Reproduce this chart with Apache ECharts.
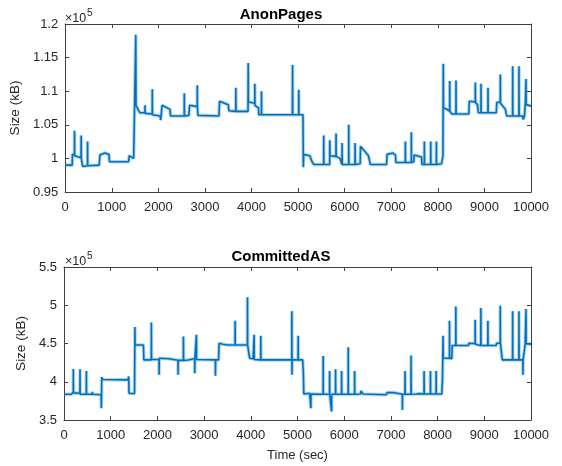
<!DOCTYPE html>
<html>
<head>
<meta charset="utf-8">
<script src="https://cdn.jsdelivr.net/npm/echarts@6/dist/echarts.min.js"></script>
<style>
  html, body { margin: 0; padding: 0; background: #fff; }
  #main { width: 562px; height: 466px; }
</style>
</head>
<body>
<div id="main"></div>
<script>
// values in units of 1e5 kB, [time (sec), size]
var anonPages = [
  [0,0.990],[150,0.990],[155,1.006],
  [198,1.005],[200,1.041],[203,1.004],
  [340,1.001],[343,1.034],[346,1.000],
  [370,0.998],[375,0.988],
  [478,0.989],[480,1.025],[483,0.989],
  [730,0.990],[745,1.005],[850,1.008],[940,1.006],[950,0.995],
  [1360,0.995],[1375,1.004],[1400,1.006],[1470,1.000],[1510,0.999],
  [1515,1.184],[1520,1.079],[1560,1.077],[1600,1.068],
  [1712,1.068],[1714,1.079],[1717,1.067],
  [1868,1.066],[1870,1.103],[1873,1.065],
  [2040,1.063],[2050,1.057],[2080,1.079],[2250,1.073],[2260,1.063],
  [2555,1.063],[2557,1.097],[2560,1.063],
  [2655,1.064],[2670,1.079],[2834,1.077],[2836,1.109],[2839,1.076],[2850,1.064],
  [3300,1.063],[3315,1.085],[3500,1.080],[3514,1.071],
  [3662,1.070],[3664,1.105],[3667,1.070],
  [3925,1.070],[3929,1.142],[3933,1.084],
  [4069,1.082],[4071,1.111],[4074,1.079],
  [4150,1.075],[4157,1.065],
  [4212,1.065],[4214,1.100],[4217,1.065],
  [4877,1.065],[4881,1.139],[4885,1.065],
  [5012,1.065],[5014,1.102],[5017,1.065],
  [5105,1.065],[5112,0.987],[5120,1.006],[5250,1.004],[5300,0.995],[5336,0.991],
  [5548,0.991],[5550,1.034],[5553,0.991],
  [5678,0.991],[5680,1.027],[5685,1.004],
  [5812,1.003],[5815,1.037],[5818,1.003],[5900,1.000],
  [5942,0.991],[5944,1.023],[5947,0.991],
  [6085,0.991],[6087,1.050],[6090,0.991],
  [6221,0.991],[6223,1.023],[6226,0.991],
  [6333,0.992],[6340,1.018],[6510,1.004],[6550,0.991],
  [6900,0.991],[6910,1.006],[7040,1.008],[7090,1.005],[7100,0.994],
  [7301,0.994],[7303,1.025],[7306,0.994],
  [7430,0.994],[7432,1.039],[7435,0.994],
  [7483,0.995],[7490,1.005],[7650,1.002],[7660,0.991],
  [7709,0.991],[7711,1.025],[7714,0.991],
  [7845,0.991],[7847,1.025],[7850,0.991],
  [7967,0.991],[7969,1.025],[7972,0.991],
  [8080,0.992],[8110,1.004],[8117,1.141],[8122,1.075],[8200,1.073],
  [8253,1.070],[8255,1.115],[8258,1.070],[8300,1.066],
  [8388,1.066],[8390,1.116],[8393,1.066],
  [8665,1.066],[8675,1.085],[8803,1.084],[8805,1.113],[8808,1.083],[8850,1.080],[8870,1.068],
  [8925,1.068],[8927,1.111],[8930,1.068],
  [9075,1.068],[9077,1.105],[9080,1.068],
  [9255,1.068],[9265,1.083],[9340,1.084],[9342,1.125],[9345,1.082],[9450,1.073],[9480,1.063],
  [9605,1.063],[9607,1.137],[9610,1.063],
  [9740,1.063],[9742,1.137],[9745,1.063],
  [9825,1.063],[9828,1.058],[9860,1.063],[9880,1.083],
  [9891,1.083],[9893,1.118],[9896,1.080],[10000,1.078]
];

var committedAS = [
  [0,3.836],[150,3.836],[157,3.858],
  [198,3.858],[200,4.168],[203,3.855],
  [341,3.850],[343,4.164],[346,3.836],
  [477,3.836],[479,4.142],[482,3.836],
  [605,3.836],[607,3.870],[610,3.836],
  [795,3.830],[800,3.653],[808,4.060],[830,4.030],[1370,4.024],[1386,4.068],[1392,3.850],[1510,3.845],
  [1519,4.714],[1523,4.483],[1700,4.480],[1710,4.286],
  [1869,4.286],[1871,4.775],[1874,4.290],
  [2034,4.290],[2036,4.090],[2040,4.308],[2250,4.300],[2260,4.280],
  [2441,4.280],[2443,4.090],[2446,4.280],
  [2555,4.280],[2557,4.592],[2560,4.280],
  [2660,4.285],[2665,4.305],[2798,4.305],[2800,4.110],[2803,4.305],
  [2834,4.305],[2836,4.614],[2839,4.290],[2850,4.286],
  [3241,4.286],[3243,4.080],[3246,4.286],[3310,4.286],[3321,4.504],[3400,4.490],[3500,4.480],
  [3662,4.480],[3664,4.797],[3667,4.480],
  [3927,4.480],[3929,5.103],[3932,4.480],[3965,4.480],[3975,4.308],[4050,4.300],
  [4069,4.295],[4071,4.614],[4074,4.290],
  [4212,4.286],[4214,4.600],[4217,4.286],
  [4877,4.286],[4879,4.920],[4882,4.090],[4885,4.286],
  [5012,4.286],[5014,4.600],[5017,4.286],
  [5110,4.286],[5125,4.130],[5135,3.840],[5260,3.850],
  [5284,3.850],[5286,3.653],[5289,3.840],
  [5548,3.836],[5550,4.338],[5553,3.836],
  [5685,3.836],[5687,4.142],[5690,3.836],
  [5728,3.836],[5730,3.610],[5733,3.836],
  [5813,3.836],[5815,4.164],[5818,3.836],
  [5942,3.836],[5944,4.142],[5947,3.836],
  [6085,3.836],[6087,4.452],[6090,3.836],
  [6221,3.836],[6223,4.142],[6226,3.836],
  [6350,3.840],[6360,3.880],[6400,3.840],
  [6900,3.830],[6920,3.858],[7050,3.860],[7070,3.840],
  [7244,3.836],[7246,3.630],[7249,3.836],
  [7301,3.836],[7303,4.142],[7306,3.836],
  [7430,3.836],[7432,4.343],[7435,3.836],
  [7545,3.840],[7555,3.860],[7600,3.845],
  [7709,3.840],[7711,4.142],[7714,3.840],
  [7845,3.840],[7847,4.142],[7850,3.840],
  [7967,3.840],[7969,4.142],[7972,3.840],
  [8090,3.840],[8104,4.024],[8117,4.600],[8122,4.308],
  [8253,4.308],[8255,4.797],[8258,4.308],[8305,4.300],[8312,4.474],
  [8388,4.474],[8390,4.985],[8393,4.474],
  [8660,4.474],[8670,4.504],[8803,4.500],[8805,4.810],[8808,4.490],[8830,4.474],
  [8925,4.474],[8927,4.963],[8930,4.474],
  [9075,4.474],[9077,4.797],[9080,4.474],
  [9255,4.474],[9265,4.504],[9340,4.504],[9342,4.993],[9345,4.504],[9375,4.500],[9385,4.286],
  [9605,4.286],[9607,4.920],[9610,4.286],
  [9740,4.286],[9742,4.920],[9745,4.286],
  [9826,4.286],[9828,4.090],[9831,4.286],[9866,4.286],[9876,4.496],
  [9891,4.496],[9893,4.950],[9896,4.496],[10000,4.490]
];

var titles = ['AnonPages', 'CommittedAS'];
var xRange = [0, 10000, 1000];
var yRangeTop = [0.95, 1.2, 0.05];
var yRangeBottom = [3.5, 5.5, 0.5];

var axisColor = '#404040';
var textColor = '#262626';
var lineColor = '#0072BD';
var font = 'Liberation Sans, Arial, Helvetica, sans-serif';

var myChart = echarts.init(document.getElementById('main'));

function xAxisDef(grid, pos, showLabel, name) {
  return {
    type: 'value', gridIndex: grid, position: pos,
    min: xRange[0], max: xRange[1], interval: xRange[2],
    axisLine: { show: true, onZero: false, lineStyle: { color: axisColor, width: 1 } },
    axisTick: { show: true, inside: true, length: 4, lineStyle: { color: axisColor } },
    axisLabel: {
      show: showLabel, color: textColor, fontSize: 13, fontFamily: font, margin: 9,
      formatter: function (v) { return String(v); }
    },
    splitLine: { show: false },
    name: name || '', nameLocation: 'middle', nameGap: 29,
    nameTextStyle: { color: textColor, fontSize: 13, fontFamily: font }
  };
}

function yAxisDef(grid, pos, range, showLabel) {
  return {
    type: 'value', gridIndex: grid, position: pos,
    min: range[0], max: range[1], interval: range[2],
    axisLine: { show: true, onZero: false, lineStyle: { color: axisColor, width: 1 } },
    axisTick: { show: true, inside: true, length: 4, lineStyle: { color: axisColor } },
    axisLabel: { show: showLabel, color: textColor, fontSize: 13, fontFamily: font, margin: 7 },
    splitLine: { show: false },
    name: showLabel ? 'Size (kB)' : '', nameLocation: 'middle', nameGap: 35, nameRotate: 90,
    nameTextStyle: { color: textColor, fontSize: 13.5, fontFamily: font }
  };
}

function expLabel(top) {
  return [
    { type: 'text', left: 65, top: top + 4, style: { text: '×10', font: '12.5px ' + font, fill: textColor } },
    { type: 'text', left: 87, top: top, style: { text: '5', font: '10px ' + font, fill: textColor } }
  ];
}

function seriesPair(xi, yi, data) {
  return [
    {
      type: 'line', xAxisIndex: xi, yAxisIndex: yi, data: data, silent: true,
      showSymbol: false, lineStyle: { color: lineColor, width: 3.6, opacity: 0.3 }
    },
    {
      type: 'line', xAxisIndex: xi, yAxisIndex: yi, data: data,
      showSymbol: false, lineStyle: { color: lineColor, width: 1.6 }
    }
  ];
}

var option = {
  animation: false,
  backgroundColor: '#ffffff',
  title: [
    { text: titles[0], left: 'center', top: 2, textStyle: { fontSize: 15, fontWeight: 'bold', color: '#000', fontFamily: font } },
    { text: titles[1], left: 'center', top: 244, textStyle: { fontSize: 15, fontWeight: 'bold', color: '#000', fontFamily: font } }
  ],
  graphic: expLabel(8).concat(expLabel(251)),
  grid: [
    { left: 64, top: 24, width: 467, height: 168 },
    { left: 64, top: 267, width: 467, height: 153 }
  ],
  xAxis: [
    xAxisDef(0, 'bottom', true),
    xAxisDef(0, 'top', false),
    xAxisDef(1, 'bottom', true, 'Time (sec)'),
    xAxisDef(1, 'top', false)
  ],
  yAxis: [
    yAxisDef(0, 'left', yRangeTop, true),
    yAxisDef(0, 'right', yRangeTop, false),
    yAxisDef(1, 'left', yRangeBottom, true),
    yAxisDef(1, 'right', yRangeBottom, false)
  ],
  series: seriesPair(0, 0, anonPages).concat(seriesPair(2, 2, committedAS))
};

myChart.setOption(option);
</script>
</body>
</html>
